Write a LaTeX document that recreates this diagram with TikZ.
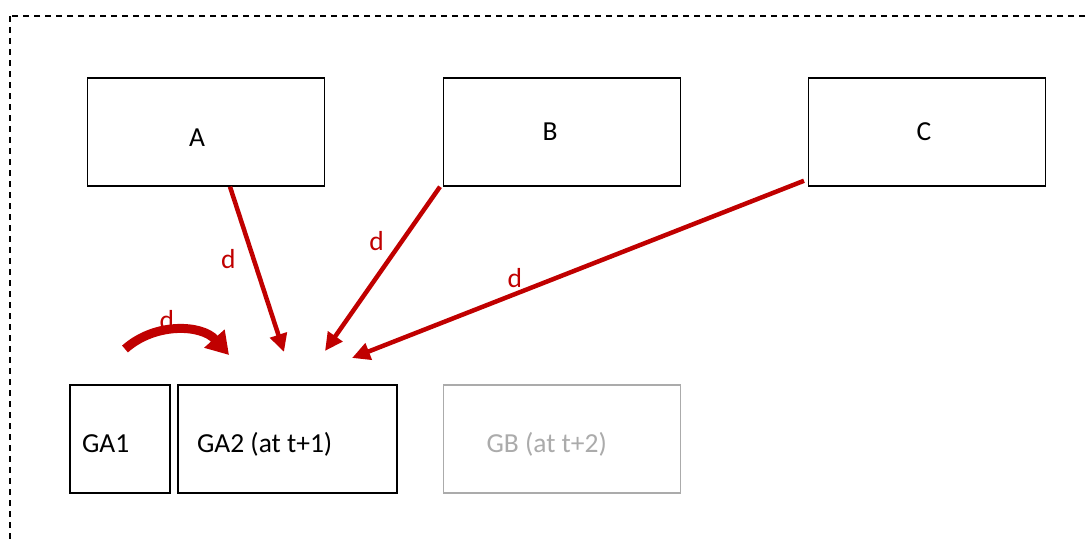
\documentclass[tikz,border=0pt]{standalone}
\usepackage{fontspec}
\setmainfont{Carlito}
\usepackage{xcolor}
\usetikzlibrary{arrows.meta}
\definecolor{darkred}{HTML}{C00000}
\definecolor{lightgray}{HTML}{ABABAB}
\tikzstyle{block} = [draw=black, line width=1.5pt, fill=white, rectangle,
    minimum width=237pt, minimum height=108pt, inner sep=0pt]
\tikzstyle{dep} = [draw=darkred, line width=4.5pt,
    -{Triangle[length=18pt, width=17pt]}]
\tikzstyle{deplabel} = [text=darkred, inner sep=0pt]
\newcommand{\boxtext}[3]{\raisebox{#1}[0pt][0pt]{\makebox[#2][l]{#3}}}

\begin{document}
\begin{tikzpicture}[x=1pt, y=-1pt, font=\fontsize{27.5}{31}\selectfont]
\useasboundingbox (0,0) rectangle (1090,541);
\clip (0,0) rectangle (1090,541);
\draw[line width=1.5pt, dash pattern=on 6pt off 5pt] (10,16) rectangle (1110,570);

\node [block, label={[xshift=-9pt, yshift=-6pt]center:A}] (A) at (206,132) {};
\node [block] (B) at (562,132) {\hspace*{-24pt}B};
\node [block] (C) at (927,132) {\hspace*{-6pt}C};

\node [block, minimum width=100pt] (GA1) at (120,439) {\boxtext{-13pt}{76pt}{GA1}};
\node [block, minimum width=219pt] (GA2) at (287.5,439) {\boxtext{-13pt}{181pt}{GA2 (at t+1)}};
\node [block, draw=lightgray, text=lightgray] (GB) at (562,439) {\boxtext{-13pt}{151pt}{GB (at t+2)}};

\coordinate (endA) at (284,352);
\coordinate (endB) at (325,351);
\coordinate (endC) at (352,358);
\coordinate (self1) at (125,349);
\coordinate (self2) at (229,355);

\draw [dep] (A.south -| 230,0) -- (endA) node[deplabel, pos=0.44, left=16pt] {d};
\draw [dep] (B.south -| 440,0) -- (endB) node[deplabel, pos=0.33, left=16pt] {d};
\draw [dep] (C.south -| 804,0) ++(0,-6) -- (endC) node[deplabel, pos=0.64, above=4pt] {d};
\draw [draw=darkred, line width=9pt, -{Triangle[length=22pt, width=26pt]}]
    (self1) to[bend left=45] node[deplabel, above=-4pt, pos=0.4] {d} (self2);
\end{tikzpicture}
\end{document}
